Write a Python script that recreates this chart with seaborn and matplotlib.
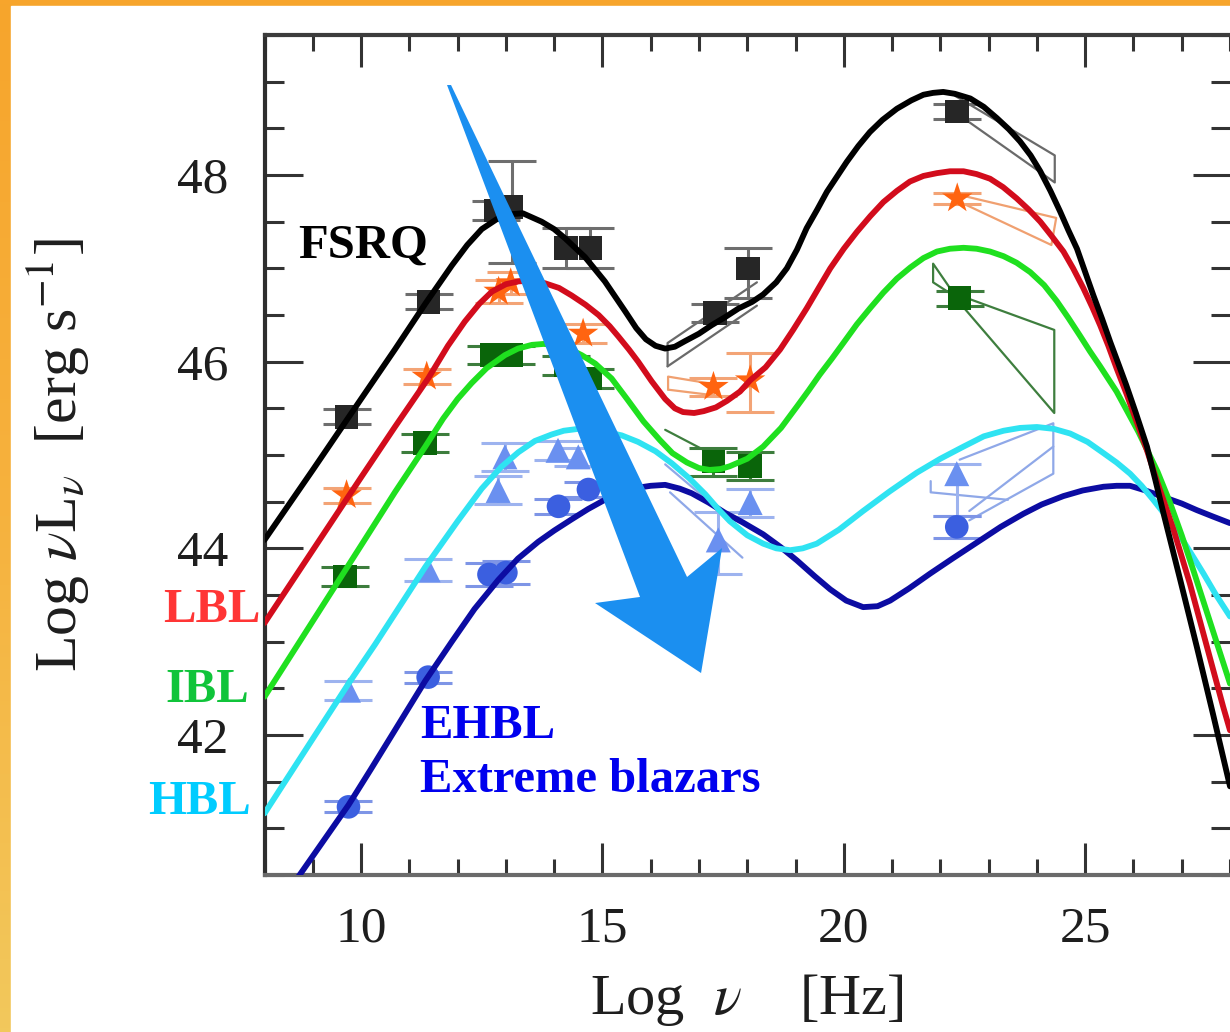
import numpy as np
import pandas as pd
import matplotlib
matplotlib.use("Agg")
import matplotlib.pyplot as plt
from matplotlib.patches import Polygon, Rectangle
from matplotlib.colors import LinearSegmentedColormap
from matplotlib.ticker import MultipleLocator
import seaborn as sns

# ---- blazar sequence model curves (log nu [Hz], log nuL_nu [erg/s]) ----
fsrq_x = [8.0, 9.0, 10.0, 10.7, 11.33, 11.88, 12.2, 12.5, 12.85, 13.1, 13.35, 13.74, 14.0,
          14.23, 14.64, 15.05, 15.47, 15.7, 15.9, 16.1, 16.3, 16.5, 16.71, 17.0, 17.26,
          17.55, 17.82, 18.1, 18.33, 18.6, 18.82, 19.03, 19.23, 19.45, 19.65, 20.06, 20.3,
          20.54, 20.8, 21.1, 21.4, 21.65, 21.85, 22.06, 22.3, 22.62, 22.9, 23.17, 23.42,
          23.65, 23.87, 24.07, 24.28, 24.48, 24.65, 24.83, 25.0, 25.17, 25.35, 25.52, 25.7,
          25.85, 26.05, 26.28, 26.45, 26.62, 26.97, 27.31, 27.65, 28.0]
fsrq_y = [44.09, 44.84, 45.60, 46.13, 46.62, 47.03, 47.25, 47.42, 47.54, 47.58, 47.59, 47.50,
          47.42, 47.32, 47.12, 46.86, 46.54, 46.36, 46.24, 46.17, 46.14, 46.16, 46.22, 46.30,
          46.39, 46.48, 46.57, 46.64, 46.72, 46.85, 47.00, 47.20, 47.43, 47.63, 47.82, 48.14,
          48.31, 48.46, 48.59, 48.71, 48.80, 48.86, 48.88, 48.89, 48.87, 48.82, 48.73, 48.61,
          48.49, 48.36, 48.21, 48.04, 47.83, 47.61, 47.41, 47.21, 46.96, 46.71, 46.46, 46.21,
          45.96, 45.75, 45.45, 45.09, 44.74, 44.38, 43.66, 42.95, 42.22, 41.45]

lbl_x = [8.0, 9.0, 10.0, 10.7, 11.39, 11.8, 12.15, 12.45, 12.71, 13.0, 13.26, 13.55, 13.81,
         14.1, 14.36, 14.65, 14.92, 15.15, 15.33, 15.55, 15.74, 16.02, 16.3, 16.5, 16.67,
         16.9, 17.1, 17.35, 17.58, 17.85, 18.06, 18.38, 18.68, 18.95, 19.23, 19.48, 19.72,
         20.0, 20.27, 20.55, 20.82, 21.1, 21.37, 21.65, 21.93, 22.2, 22.48, 22.75, 23.03,
         23.3, 23.58, 23.83, 24.07, 24.3, 24.55, 24.75, 24.96, 25.15, 25.31, 25.48, 25.65,
         25.86, 26.07, 26.28, 26.48, 26.83, 27.17, 27.52, 27.86, 28.0]
lbl_y = [43.20, 43.98, 44.76, 45.30, 45.82, 46.17, 46.43, 46.62, 46.75, 46.83, 46.86, 46.87,
         46.84, 46.79, 46.71, 46.61, 46.50, 46.38, 46.27, 46.13, 46.00, 45.79, 45.60, 45.50,
         45.46, 45.45, 45.47, 45.51, 45.58, 45.68, 45.80, 45.94, 46.13, 46.34, 46.57, 46.79,
         47.00, 47.21, 47.39, 47.56, 47.71, 47.83, 47.93, 47.99, 48.02, 48.04, 48.04, 48.01,
         47.96, 47.87, 47.75, 47.63, 47.50, 47.35, 47.18, 47.00, 46.79, 46.58, 46.39, 46.17,
         45.93, 45.65, 45.35, 45.05, 44.73, 44.20, 43.62, 42.95, 42.30, 42.05]

ibl_x = [8.0, 9.0, 10.0, 10.7, 11.33, 11.7, 12.0, 12.29, 12.6, 12.98, 13.25, 13.54, 13.78,
         14.02, 14.3, 14.57, 14.85, 15.19, 15.51, 15.85, 16.19, 16.45, 16.75, 17.0, 17.22,
         17.45, 17.64, 18.0, 18.33, 18.7, 19.03, 19.27, 19.5, 19.75, 19.99, 20.27, 20.54,
         20.82, 21.1, 21.38, 21.65, 21.93, 22.2, 22.48, 22.75, 23.03, 23.31, 23.58, 23.86,
         24.15, 24.41, 24.65, 24.89, 25.1, 25.31, 25.65, 26.1, 26.5, 26.75, 27.0, 27.25,
         27.5, 27.75, 28.0]
ibl_y = [42.41, 43.22, 44.03, 44.60, 45.09, 45.39, 45.60, 45.77, 45.93, 46.07, 46.14, 46.18,
         46.19, 46.18, 46.14, 46.07, 45.98, 45.82, 45.60, 45.36, 45.16, 45.02, 44.92, 44.86,
         44.84, 44.85, 44.88, 44.96, 45.09, 45.29, 45.52, 45.69, 45.86, 46.03, 46.20, 46.40,
         46.57, 46.74, 46.89, 47.01, 47.11, 47.18, 47.21, 47.22, 47.21, 47.18, 47.13, 47.06,
         46.96, 46.82, 46.65, 46.47, 46.28, 46.11, 45.95, 45.68, 45.25, 44.82, 44.50, 44.14,
         43.75, 43.35, 42.95, 42.55]

hbl_x = [8.0, 9.0, 9.74, 10.29, 11.33, 12.0, 12.5, 12.9, 13.26, 13.6, 13.95, 14.2, 14.5,
         14.8, 15.05, 15.4, 15.74, 16.1, 16.44, 16.8, 17.13, 17.4, 17.64, 18.0, 18.33, 18.6,
         18.89, 19.15, 19.44, 19.9, 20.4, 20.95, 21.51, 22.0, 22.48, 22.9, 23.31, 23.65,
         24.0, 24.35, 24.69, 25.05, 25.38, 25.65, 25.93, 26.17, 26.41, 26.7, 26.97, 27.2,
         27.45, 27.7, 28.0]
hbl_y = [41.16, 41.96, 42.55, 42.97, 43.80, 44.29, 44.64, 44.87, 45.03, 45.15, 45.22, 45.26,
         45.28, 45.27, 45.25, 45.21, 45.14, 45.04, 44.91, 44.75, 44.58, 44.42, 44.29, 44.14,
         44.05, 44.00, 43.98, 44.00, 44.05, 44.20, 44.40, 44.61, 44.81, 44.96, 45.09, 45.20,
         45.26, 45.29, 45.30, 45.28, 45.23, 45.14, 45.02, 44.92, 44.80, 44.67, 44.52, 44.33,
         44.13, 43.94, 43.73, 43.51, 43.27]

ehbl_x = [8.7, 9.74, 10.2, 10.7, 11.33, 11.88, 12.35, 12.84, 13.25, 13.67, 14.0, 14.36, 14.7,
          15.05, 15.4, 15.74, 16.0, 16.3, 16.6, 16.85, 17.2, 17.54, 17.9, 18.33, 18.7, 19.03,
          19.4, 19.72, 20.05, 20.4, 20.7, 20.96, 21.35, 21.79, 22.25, 22.75, 23.25, 23.72,
          24.1, 24.55, 24.95, 25.38, 25.65, 25.93, 26.25, 26.62, 27.0, 27.31, 27.65, 28.0]
ehbl_y = [40.48, 41.25, 41.63, 42.05, 42.58, 43.00, 43.35, 43.66, 43.89, 44.07, 44.19, 44.31,
          44.42, 44.52, 44.60, 44.65, 44.67, 44.68, 44.64, 44.59, 44.49, 44.38, 44.28, 44.15,
          44.01, 43.87, 43.70, 43.56, 43.44, 43.37, 43.38, 43.44, 43.57, 43.73, 43.89, 44.06,
          44.23, 44.37, 44.47, 44.56, 44.62, 44.66, 44.67, 44.67, 44.62, 44.55, 44.48, 44.41,
          44.34, 44.27]

# ---- averaged SED data points ----
fsrq_px = [9.70, 11.40, 12.80, 13.12, 14.25, 14.75, 17.33, 18.02, 22.35]
fsrq_py = [45.41, 46.64, 47.62, 47.66, 47.22, 47.22, 46.52, 47.00, 48.68]
fsrq_elo = [0.08, 0.08, 0.10, 0.60, 0.22, 0.22, 0.10, 0.32, 0.08]
fsrq_ehi = [0.08, 0.08, 0.10, 0.49, 0.21, 0.21, 0.10, 0.22, 0.08]

lbl_px = [9.70, 11.36, 12.85, 13.10, 14.60, 17.30, 18.06, 22.35]
lbl_py = [44.57, 45.84, 46.75, 46.84, 46.30, 45.73, 45.80, 47.75]
lbl_elo = [0.08, 0.08, 0.12, 0.12, 0.10, 0.10, 0.34, 0.06]
lbl_ehi = [0.08, 0.08, 0.12, 0.12, 0.10, 0.10, 0.29, 0.06]

ibl_px = [9.67, 11.33, 12.70, 13.10, 14.25, 14.75, 17.30, 18.06, 22.40]
ibl_py = [43.70, 45.13, 46.07, 46.07, 45.96, 45.82, 44.93, 44.88, 46.68]
ibl_elo = [0.10, 0.10, 0.10, 0.10, 0.10, 0.10, 0.15, 0.15, 0.08]
ibl_ehi = [0.10, 0.10, 0.10, 0.10, 0.10, 0.10, 0.15, 0.15, 0.08]

hbl_px = [9.74, 11.39, 12.84, 12.98, 14.08, 14.50, 17.40, 18.06, 22.34]
hbl_py = [42.48, 43.77, 44.62, 44.98, 45.05, 44.98, 44.09, 44.49, 44.80]
hbl_elo = [0.10, 0.12, 0.15, 0.15, 0.10, 0.10, 0.36, 0.15, 0.45]
hbl_ehi = [0.10, 0.12, 0.15, 0.15, 0.10, 0.10, 0.30, 0.15, 0.10]

ehbl_px = [9.74, 11.39, 12.65, 13.00, 14.09, 14.71, 22.34]
ehbl_py = [41.23, 42.62, 43.72, 43.74, 44.45, 44.63, 44.23]
ehbl_elo = [0.06, 0.06, 0.12, 0.12, 0.08, 0.08, 0.12]
ehbl_ehi = [0.06, 0.06, 0.12, 0.12, 0.08, 0.08, 0.12]

# gamma-ray / X-ray spectral "bow-ties" (outline vertices)
fsrq_tie_x = [[22.30, 24.37, 24.37, 22.45], [16.35, 16.35, 18.20], [16.35, 18.20]]
fsrq_tie_y = [[48.85, 48.21, 47.92, 48.62], [45.95, 46.20, 46.85], [45.95, 46.60]]
lbl_tie_x = [[22.45, 24.40, 24.30, 22.45], [16.36, 16.36, 17.30], [16.36, 17.30]]
lbl_tie_y = [[47.78, 47.54, 47.25, 47.70], [45.70, 45.84, 45.76], [45.70, 45.64]]
ibl_tie_x = [[22.45, 24.36, 24.36, 22.45, 21.85, 21.85, 22.30], [16.30, 17.30]]
ibl_tie_y = [[46.70, 46.34, 45.45, 46.60, 47.05, 46.85, 46.70], [45.27, 45.00]]
hbl_tie_x = [[22.40, 24.34, 24.34, 22.60], [22.60, 24.34], [21.80, 21.80, 23.40],
             [16.30, 17.90], [16.40, 17.90]]
hbl_tie_y = [[44.95, 45.34, 44.80, 44.30], [44.40, 45.09], [44.72, 44.60, 44.52],
             [44.90, 44.20], [44.60, 43.90]]

classes = ["EHBL", "HBL", "IBL", "LBL", "FSRQ"]
line_colors = {"FSRQ": "#000000", "LBL": "#d20c1c", "IBL": "#1fe01f",
               "HBL": "#2fe3f2", "EHBL": "#0c0ca2"}

curves = pd.concat([
    pd.DataFrame({"log_nu": fsrq_x, "log_L": fsrq_y, "cls": "FSRQ"}),
    pd.DataFrame({"log_nu": lbl_x, "log_L": lbl_y, "cls": "LBL"}),
    pd.DataFrame({"log_nu": ibl_x, "log_L": ibl_y, "cls": "IBL"}),
    pd.DataFrame({"log_nu": hbl_x, "log_L": hbl_y, "cls": "HBL"}),
    pd.DataFrame({"log_nu": ehbl_x, "log_L": ehbl_y, "cls": "EHBL"}),
], ignore_index=True)

points = {
    "FSRQ": (fsrq_px, fsrq_py, fsrq_elo, fsrq_ehi, "s", "#262626", "#6e6e6e", 17),
    "LBL": (lbl_px, lbl_py, lbl_elo, lbl_ehi, "*", "#ff6410", "#f3a476", 23),
    "IBL": (ibl_px, ibl_py, ibl_elo, ibl_ehi, "s", "#0a650a", "#3d7d3d", 17),
    "HBL": (hbl_px, hbl_py, hbl_elo, hbl_ehi, "^", "#6a90f0", "#9db3ef", 18),
    "EHBL": (ehbl_px, ehbl_py, ehbl_elo, ehbl_ehi, "o", "#3b5fe0", "#7e95e6", 17),
}
ties = {
    "FSRQ": (fsrq_tie_x, fsrq_tie_y, "#6a6a6a"),
    "LBL": (lbl_tie_x, lbl_tie_y, "#f0a070"),
    "IBL": (ibl_tie_x, ibl_tie_y, "#3e7e3e"),
    "HBL": (hbl_tie_x, hbl_tie_y, "#8fa8e8"),
}

sns.set_theme(style="ticks")
plt.rcParams["font.family"] = ["Liberation Serif", "DejaVu Serif"]
plt.rcParams["mathtext.fontset"] = "stix"

W, H = 1230, 1032
fig = plt.figure(figsize=(W / 100, H / 100), dpi=100)

# warm slide frame behind the white panel
bg = fig.add_axes([0, 0, 1, 1], zorder=-10)
frame = LinearSegmentedColormap.from_list("frame", ["#f7a52c", "#f6b23e", "#f2c85c"])
bg.imshow(np.linspace(0, 1, 256).reshape(-1, 1), cmap=frame, aspect="auto",
          extent=[0, 1, 0, 1], origin="upper")
bg.add_patch(Rectangle((11 / W, 0), 1, 1 - 6 / H, color="white", transform=bg.transAxes))
bg.set_xlim(0, 1)
bg.set_ylim(0, 1)
bg.axis("off")

ax = fig.add_axes([264.5 / W, (H - 875) / H, (W - 264.5) / W, 840 / H])
ax.set_facecolor("white")

# bow-ties and error bars beneath the markers
for cls, (bx, by, c) in ties.items():
    for xs, ys in zip(bx, by):
        ax.plot(xs, ys, color=c, lw=1.6, zorder=1)

for cls, (px, py, elo, ehi, mk, fc, ec, ms) in points.items():
    ax.errorbar(px, py, yerr=[elo, ehi], fmt="none", ecolor=ec, elinewidth=2.2,
                capsize=17, capthick=2.2, zorder=2)
    sns.scatterplot(x=px, y=py, marker=mk, s=ms ** 2, color=fc, edgecolor="none",
                    ax=ax, zorder=3, legend=False)

n_before = len(ax.get_lines())
sns.lineplot(data=curves, x="log_nu", y="log_L", hue="cls", hue_order=classes,
             palette=line_colors, sort=False, estimator=None, lw=4.2, ax=ax,
             legend=False, zorder=4)
for ln in ax.get_lines()[n_before:]:
    ln.set_solid_capstyle("round")
    ln.set_solid_joinstyle("round")

# sequence arrow
arrow_x = [11.781, 11.864, 16.753, 17.478, 17.043, 14.847, 15.779]
arrow_y = [48.964, 48.964, 43.693, 44.003, 42.664, 43.414, 43.479]
ax.add_patch(Polygon(np.column_stack([arrow_x, arrow_y]), closed=True,
                     facecolor="#1b8ff0", edgecolor="none", zorder=10))

ax.set_xlim(8, 28)
ax.set_ylim(40.5, 49.5)
ax.xaxis.set_major_locator(MultipleLocator(5))
ax.xaxis.set_minor_locator(MultipleLocator(1))
ax.yaxis.set_major_locator(MultipleLocator(2))
ax.yaxis.set_minor_locator(MultipleLocator(0.5))
ax.tick_params(which="both", direction="in", top=True, right=True,
               color="#333333", labelcolor="#1e1e1e", width=2.2)
ax.tick_params(axis="x", which="major", length=23, pad=22, labelsize=37)
ax.tick_params(axis="x", which="minor", length=11.5)
ax.tick_params(axis="y", which="major", length=27, pad=26, labelsize=37)
ax.tick_params(axis="y", which="minor", length=13.5)
for side, c in (("left", "#2e2e2e"), ("top", "#3c3c3c"), ("bottom", "#6a6a6a")):
    ax.spines[side].set_color(c)
    ax.spines[side].set_linewidth(3)
ax.spines["right"].set_visible(False)

ax.set_xlabel(r"Log  $\nu$    [Hz]", fontsize=42, color="#1e1e1e", va="center")
ax.xaxis.set_label_coords(0.5, (875 - 1000) / 840)
ax.set_ylabel(r"Log $\nu$L$_\nu$  [erg s$^{-1}$]", fontsize=43, color="#1e1e1e",
              va="center")
ax.yaxis.set_label_coords((57 - 264.5) / 965.5, 0.5)

# class labels
def label(px, py_base, s, c):
    fig.text(px / W, 1 - py_base / H, s, color=c, fontsize=35, fontweight="bold",
             ha="left", va="baseline", family=["Liberation Serif", "DejaVu Serif"])

label(298, 258, "FSRQ", "#000000")
label(163, 622, "LBL", "#ff3535")
label(165, 702, "IBL", "#10c43a")
label(148, 814, "HBL", "#00ccff")
label(420, 738, "EHBL", "#0000ee")
label(420, 792, "Extreme blazars", "#0000ee")

fig.savefig("out.png", dpi=100)
